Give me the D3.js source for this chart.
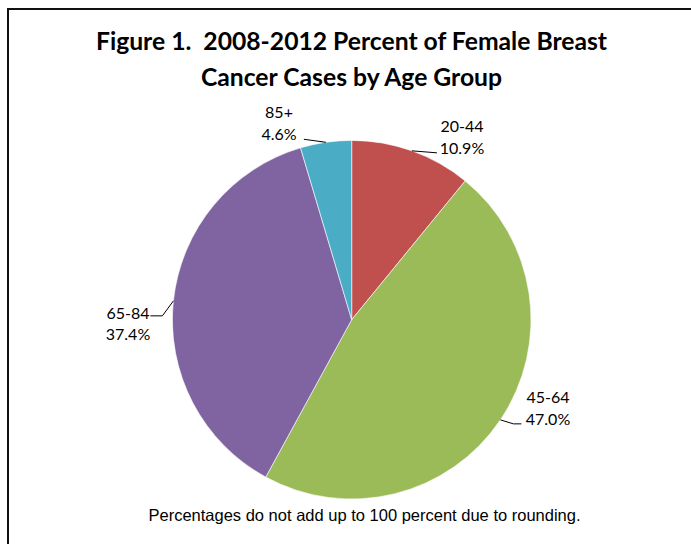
<!DOCTYPE html>
<html>
<head>
<meta charset="utf-8">
<script src="https://cdn.jsdelivr.net/npm/d3@7"></script>
<style>
  html, body { margin: 0; padding: 0; background: #fff; }
  svg { display: block; }
  text { white-space: pre; }
</style>
</head>
<body>
<svg id="chart" width="691" height="544"></svg>
<script>
// Age groups and their share of cases (percent)
const ageGroups = ["20-44", "45-64", "65-84", "85+"];
const percents = [10.9, 47.0, 37.4, 4.6];
const sliceColors = ["#C0504D", "#9BBB59", "#8064A2", "#4BACC6"];

const titleLines = ["Figure 1.  2008-2012 Percent of Female Breast", "Cancer Cases by Age Group"];
const footnote = "Percentages do not add up to 100 percent due to rounding.";

// Leader/label layout per slice: elbow and end offsets from the arc point, text centre and baselines
const labelLayout = [
  { pts: [[25, 2]], tx: 462, ty: [131.5, 154] },
  { pts: [[13, 4], [21, 4]], tx: 548, ty: [402.5, 425] },
  { pts: [[-11, 15], [-23, 15]], tx: 128, ty: [318.5, 339.5] },
  { pts: [[-22, -3]], tx: 279, ty: [118, 139.5] }
];

const svg = d3.select("#chart");
const W = 691, H = 544;
const cx = 351.7, cy = 319.7, R = 179.3;

// Outer frame
svg.append("rect")
  .attr("x", 8).attr("y", 9)
  .attr("width", W + 20).attr("height", H + 20)
  .attr("fill", "none")
  .attr("stroke", "#111")
  .attr("stroke-width", 2);

// Title
svg.append("g").selectAll("text")
  .data(titleLines)
  .join("text")
  .attr("x", 351.5)
  .attr("y", (d, i) => 50 + i * 36)
  .attr("text-anchor", "middle")
  .attr("font-family", "Lato, 'Open Sans', sans-serif")
  .attr("font-weight", "bold")
  .attr("font-size", 24.7)
  .attr("fill", "#000")
  .text(d => d);

const data = ageGroups.map((g, i) => ({ group: g, value: percents[i], color: sliceColors[i], layout: labelLayout[i] }));

const pie = d3.pie().value(d => d.value).sort(null);
const arc = d3.arc().innerRadius(0).outerRadius(R);
const arcs = pie(data);

const g = svg.append("g").attr("transform", `translate(${cx},${cy})`);

g.selectAll("path")
  .data(arcs)
  .join("path")
  .attr("d", arc)
  .attr("fill", d => d.data.color)
  .attr("stroke", "#fff")
  .attr("stroke-width", 0.6);

// Leader lines start on the rim at each slice's mid-angle
const rimPoint = d => {
  const a = (d.startAngle + d.endAngle) / 2;
  return [cx + R * Math.sin(a), cy - R * Math.cos(a)];
};

const line = d3.line();
svg.append("g").selectAll("path")
  .data(arcs)
  .join("path")
  .attr("d", d => {
    const p0 = rimPoint(d);
    const pts = [p0].concat(d.data.layout.pts.map(o => [p0[0] + o[0], p0[1] + o[1]]));
    return line(pts);
  })
  .attr("fill", "none")
  .attr("stroke", "#000")
  .attr("stroke-width", 1);

const labels = svg.append("g")
  .attr("font-family", "Lato, 'Open Sans', sans-serif")
  .attr("font-size", 16)
  .attr("fill", "#000")
  .attr("text-anchor", "middle");

arcs.forEach(d => {
  const L = d.data.layout;
  labels.append("text").attr("x", L.tx).attr("y", L.ty[0]).text(d.data.group);
  labels.append("text").attr("x", L.tx).attr("y", L.ty[1]).text(d.data.value.toFixed(1) + "%");
});

// Footnote
svg.append("text")
  .attr("x", 364.5)
  .attr("y", 521)
  .attr("text-anchor", "middle")
  .attr("font-family", "'Liberation Sans', Arial, sans-serif")
  .attr("font-size", 16.5)
  .attr("fill", "#000")
  .text(footnote);
</script>
</body>
</html>
